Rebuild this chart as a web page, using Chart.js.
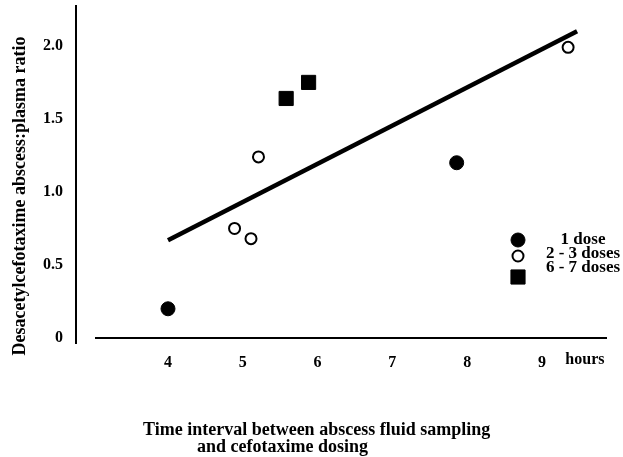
<!DOCTYPE html>
<html>
<head>
<meta charset="utf-8">
<script src="https://cdn.jsdelivr.net/npm/chart.js@4"></script>
<style>
	body { margin: 0; background: #fff; }
	#wrap { width: 623px; height: 457px; }
</style>
</head>
<body>
<div id="wrap"><canvas id="ratioChart" width="623" height="457"></canvas></div>
<script>
// values (hours, ratio)
const oneDoseX = [4.0, 7.86];
const oneDoseY = [0.20, 1.20];
const twoThreeX = [4.89, 5.11, 5.21, 9.35];
const twoThreeY = [0.75, 0.68, 1.24, 1.99];
const sixSevenX = [5.58, 5.88];
const sixSevenY = [1.64, 1.75];
const fitX = [4.0, 9.47];
const fitY = [0.67, 2.10];

const xTicks = [4, 5, 6, 7, 8, 9];
const yTicks = [0, 0.5, 1.0, 1.5, 2.0];
const seriesLabels = ['1 dose', '2 - 3 doses', '6 - 7 doses'];

const FONT = '"Liberation Serif", "Times New Roman", serif';

function pts(xs, ys) {
	return xs.map((x, i) => ({ x: x, y: ys[i] }));
}

// draws the axis lines, axis titles, "hours" and the legend box
const paperText = {
	id: 'paperText',
	afterDraw(chart) {
		const ctx = chart.ctx;
		const a = chart.chartArea;
		ctx.save();
		ctx.strokeStyle = '#000';
		ctx.lineWidth = 2;
		ctx.beginPath();
		ctx.moveTo(a.left, a.top);
		ctx.lineTo(a.left, a.bottom + 6);
		ctx.moveTo(a.left + 19, a.bottom);
		ctx.lineTo(a.right, a.bottom);
		ctx.stroke();

		ctx.fillStyle = '#000';
		ctx.font = 'bold 18px ' + FONT;
		ctx.textBaseline = 'middle';

		// y title
		ctx.save();
		ctx.translate(20, 196);
		ctx.rotate(-Math.PI / 2);
		ctx.textAlign = 'center';
		ctx.fillText('Desacetylcefotaxime abscess:plasma ratio', 0, 0);
		ctx.restore();

		// x title
		ctx.textAlign = 'left';
		ctx.fillText('Time interval between abscess fluid sampling', 143, 430);
		ctx.fillText('and cefotaxime dosing', 197, 447);

		// unit next to last tick
		const xs = chart.scales.x;
		ctx.font = 'bold 16px ' + FONT;
		ctx.textAlign = 'center';
		ctx.fillText('hours', xs.getPixelForValue(9) + 43, a.bottom + 22);

		// legend
		const mx = a.right - 89;
		const tx = a.right - 24;
		const markerY = [240, 256, 277];
		const textY = [240, 254, 268];
		ctx.font = 'bold 17px ' + FONT;
		chart.data.datasets.slice(0, 3).forEach((ds, i) => {
			ctx.fillStyle = ds.backgroundColor;
			ctx.strokeStyle = ds.borderColor;
			ctx.lineWidth = ds.borderWidth;
			Chart.helpers.drawPoint(ctx, {
				pointStyle: ds.pointStyle,
				radius: ds.pointRadius,
				rotation: 0,
				borderWidth: ds.borderWidth
			}, mx, markerY[i]);
			ctx.fillStyle = '#000';
			ctx.fillText(ds.label, tx, textY[i]);
		});
		ctx.restore();
	}
};

new Chart(document.getElementById('ratioChart'), {
	type: 'scatter',
	data: {
		datasets: [{
			label: seriesLabels[0],
			data: pts(oneDoseX, oneDoseY),
			pointStyle: 'circle',
			pointRadius: 7,
			backgroundColor: '#000',
			borderColor: '#000',
			borderWidth: 1
		}, {
			label: seriesLabels[1],
			data: pts(twoThreeX, twoThreeY),
			pointStyle: 'circle',
			pointRadius: 5.5,
			backgroundColor: '#fff',
			borderColor: '#000',
			borderWidth: 2
		}, {
			label: seriesLabels[2],
			data: pts(sixSevenX, sixSevenY),
			pointStyle: 'rect',
			pointRadius: 10,
			backgroundColor: '#000',
			borderColor: '#000',
			borderWidth: 1
		}, {
			type: 'line',
			label: 'fit',
			data: pts(fitX, fitY),
			borderColor: '#000',
			borderWidth: 4.5,
			pointRadius: 0,
			fill: false
		}]
	},
	options: {
		responsive: false,
		animation: false,
		layout: { autoPadding: false, padding: { top: 5, right: 16, left: 0, bottom: 0 } },
		plugins: {
			legend: { display: false },
			tooltip: { enabled: false }
		},
		scales: {
			x: {
				type: 'linear',
				min: 2.77,
				max: 9.87,
				grid: { display: false, drawTicks: false },
				border: { display: false },
				afterBuildTicks: s => { s.ticks = xTicks.map(v => ({ value: v })); },
				afterFit: s => { s.height = 119; s.paddingLeft = 0; s.paddingRight = 0; },
				ticks: {
					padding: 15,
					color: '#000',
					maxRotation: 0,
					font: { family: FONT, size: 16, weight: 'bold' }
				}
			},
			y: {
				type: 'linear',
				min: 0,
				max: 2.28,
				grid: { display: false, drawTicks: false },
				border: { display: false },
				afterBuildTicks: s => { s.ticks = yTicks.map(v => ({ value: v })); },
				afterFit: s => { s.width = 76; s.paddingTop = 0; s.paddingBottom = 0; },
				ticks: {
					padding: 13,
					color: '#000',
					font: { family: FONT, size: 16, weight: 'bold' },
					callback: v => v === 0 ? '0' : v.toFixed(1)
				}
			}
		}
	},
	plugins: [paperText]
});
</script>
</body>
</html>
